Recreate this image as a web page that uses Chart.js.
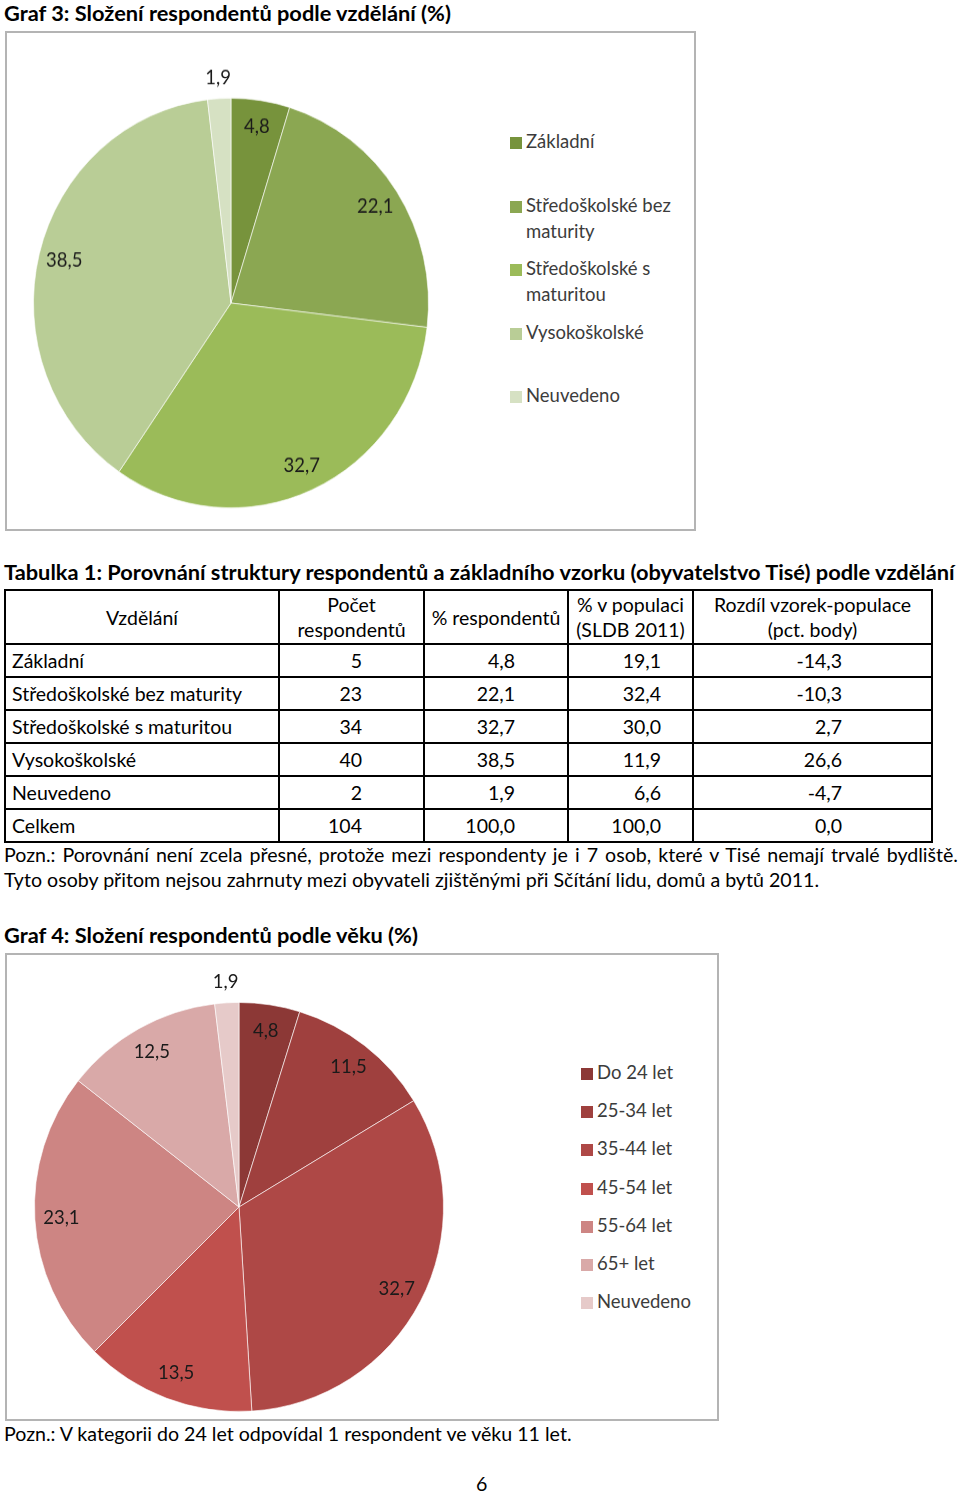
<!DOCTYPE html>
<html lang="cs">
<head>
<meta charset="utf-8">
<script src="https://cdn.jsdelivr.net/npm/chart.js@4/dist/chart.umd.min.js"></script>
<style>
  body { margin: 0; background: #fff; font-family: Lato, "Open Sans", sans-serif; color: #000; }
  #page { position: relative; width: 960px; height: 1495px; overflow: hidden; }
  .abs { position: absolute; white-space: nowrap; }
  .title { font-weight: bold; font-size: 21.8px; }
  .txt { font-size: 19.6px; }
  .just { width: 954px; text-align: justify; text-align-last: justify; white-space: normal; }
  .box { position: absolute; border: 2px solid #b4b4b4; box-sizing: border-box; }
  .chartWrap { position: absolute; z-index: 2; }
  .legend { position: absolute; z-index: 3; font-size: 18.5px; color: #3c3c3c; }
  .legend .item { position: absolute; left: 0; white-space: normal; line-height: 26px; padding-left: 16px; text-indent: -16px; }
  .legend .sw { display: inline-block; width: 12px; height: 12px; margin-right: 4px; vertical-align: -1px; text-indent: 0; }
  table { position: absolute; left: 4px; top: 589px; width: 927px; table-layout: fixed; border-collapse: collapse; font-size: 19.5px; }
  td, th { border: 2px solid #000; padding: 0; font-weight: normal; white-space: nowrap; overflow: hidden; }
  th { text-align: center; line-height: 25px; height: 52px; }
  td { height: 31px; line-height: 31px; }
  td.num { text-align: right; }
  td.name { padding-left: 6px; }
</style>
</head>
<body>
<div id="page">
  <div class="abs title" style="left:4px; top:-1px;">Graf 3: Složení respondentů podle vzdělání (%)</div>
  <div class="box" style="left:5px; top:31px; width:691px; height:500px;"></div>
  <div class="chartWrap" style="left:3px; top:53px; width:456px; height:500px; transform: scaleY(1.037); transform-origin: 50% 50%;"><canvas id="eduChart"></canvas></div>
  <div class="legend" id="eduLegend" style="left:510px; top:128px; width:175px;"></div>

  <div class="abs title" style="left:4px; top:558px;">Tabulka 1: Porovnání struktury respondentů a základního vzorku (obyvatelstvo Tisé) podle vzdělání</div>
  <table id="tbl"></table>
  <div class="abs txt just" style="left:4px; top:843px;">Pozn.: Porovnání není zcela přesné, protože mezi respondenty je i 7 osob, které v Tisé nemají trvalé bydliště.</div>
  <div class="abs txt" style="left:4px; top:868px;">Tyto osoby přitom nejsou zahrnuty mezi obyvateli zjištěnými při Sčítání lidu, domů a bytů 2011.</div>

  <div class="abs title" style="left:4px; top:921px;">Graf 4: Složení respondentů podle věku (%)</div>
  <div class="box" style="left:5px; top:953px; width:714px; height:468px;"></div>
  <div class="chartWrap" style="left:4px; top:957px; width:470px; height:500px;"><canvas id="ageChart"></canvas></div>
  <div class="legend" id="ageLegend" style="left:581px; top:1059px; width:130px;"></div>
  <div class="abs txt" style="left:4px; top:1422px;">Pozn.: V kategorii do 24 let odpovídal 1 respondent ve věku 11 let.</div>
  <div class="abs txt" style="left:476px; top:1472px;">6</div>
</div>

<script>
// Graf 3 - vzdělání
const eduLabels = ['Základní', 'Středoškolské bez maturity', 'Středoškolské s maturitou', 'Vysokoškolské', 'Neuvedeno'];
const eduValues = [4.8, 22.1, 32.7, 38.5, 1.9];
const eduColors = ['#77933c', '#8ba752', '#9bbb59', '#b9cd96', '#d6e1c3'];

// Graf 4 - věk
const ageLabels = ['Do 24 let', '25-34 let', '35-44 let', '45-54 let', '55-64 let', '65+ let', 'Neuvedeno'];
const ageValues = [4.8, 11.5, 32.7, 13.5, 23.1, 12.5, 1.9];
const ageColors = ['#8c3836', '#9f403e', '#ae4846', '#c0504d', '#cd8583', '#d9a9a8', '#e6cac9'];

// Tabulka 1
const tableHeader = ['Vzdělání', 'Počet<br>respondentů', '% respondentů', '% v populaci<br>(SLDB 2011)', 'Rozdíl vzorek-populace<br>(pct. body)'];
const tableRows = ['Základní', 'Středoškolské bez maturity', 'Středoškolské s maturitou', 'Vysokoškolské', 'Neuvedeno', 'Celkem'];
const respCount = [5, 23, 34, 40, 2, 104];
const respPct = [4.8, 22.1, 32.7, 38.5, 1.9, 100.0];
const popPct = [19.1, 32.4, 30.0, 11.9, 6.6, 100.0];
const diffPct = [-14.3, -10.3, 2.7, 26.6, -4.7, 0.0];

const fmt = v => v.toFixed(1).replace('.', ',');

function buildTable() {
  const colW = [274, 145, 144, 125, 239];
  const padR = [0, 61, 52, 31, 89];
  let html = '<colgroup>' + colW.map(w => `<col style="width:${w}px">`).join('') + '</colgroup><tr>';
  tableHeader.forEach(h => { html += `<th>${h}</th>`; });
  html += '</tr>';
  tableRows.forEach((name, i) => {
    const cells = [respCount[i], fmt(respPct[i]), fmt(popPct[i]), fmt(diffPct[i])];
    html += `<tr><td class="name">${name}</td>`;
    cells.forEach((c, j) => { html += `<td class="num" style="padding-right:${padR[j + 1]}px">${c}</td>`; });
    html += '</tr>';
  });
  document.getElementById('tbl').innerHTML = html;
}

function buildLegend(id, labels, colors, step) {
  const el = document.getElementById(id);
  labels.forEach((l, i) => {
    const d = document.createElement('div');
    d.className = 'item';
    d.style.top = (i * step) + 'px';
    d.innerHTML = `<span class="sw" style="background:${colors[i]}"></span>${l}`;
    el.appendChild(d);
  });
}

// hodnoty do výsečí
const sliceLabels = {
  id: 'sliceLabels',
  afterDatasetsDraw(chart) {
    const ctx = chart.ctx;
    const meta = chart.getDatasetMeta(0);
    const data = chart.data.datasets[0].data;
    ctx.save();
    ctx.font = '18.5px Lato, "Open Sans", sans-serif';
    ctx.fillStyle = '#1a1a1a';
    ctx.textAlign = 'center';
    ctx.textBaseline = 'middle';
    meta.data.forEach((arc, i) => {
      const mid = (arc.startAngle + arc.endAngle) / 2;
      const k = data[i] < 3 ? 1.1 : 0.87;
      const x = arc.x + Math.cos(mid) * arc.outerRadius * k;
      const y = arc.y + Math.sin(mid) * arc.outerRadius * k;
      ctx.fillText(fmt(data[i]), x, y);
    });
    ctx.restore();
  }
};

function makePie(id, labels, values, colors, pad) {
  new Chart(document.getElementById(id), {
    type: 'pie',
    data: {
      labels: labels,
      datasets: [{ data: values, backgroundColor: colors, borderColor: 'rgba(255,255,255,0.6)', borderWidth: 1 }]
    },
    options: {
      responsive: true,
      maintainAspectRatio: false,
      animation: false,
      layout: { padding: pad },
      plugins: { legend: { display: false }, tooltip: { enabled: false } }
    },
    plugins: [sliceLabels]
  });
}

document.addEventListener('DOMContentLoaded', () => {
  buildTable();
  buildLegend('eduLegend', eduLabels, eduColors, 63.5);
  buildLegend('ageLegend', ageLabels, ageColors, 38.2);
  makePie('eduChart', eduLabels, eduValues, eduColors, { left: 30, right: 30, top: 52, bottom: 52 });
  makePie('ageChart', ageLabels, ageValues, ageColors, { left: 30, right: 30, top: 45, bottom: 45 });
});
</script>
</body>
</html>
